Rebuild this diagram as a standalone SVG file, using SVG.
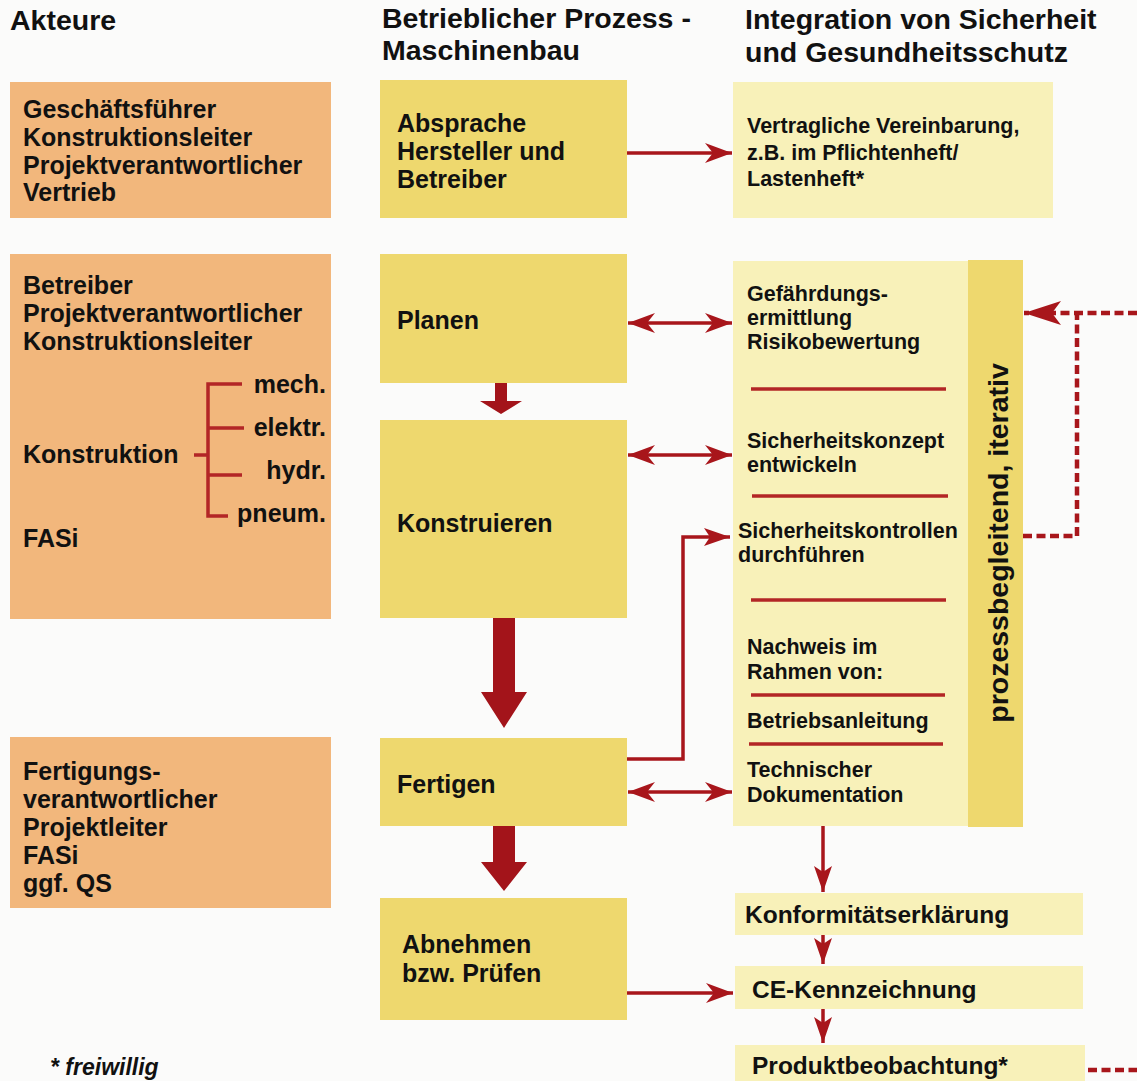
<svg xmlns="http://www.w3.org/2000/svg" width="1137" height="1081" viewBox="0 0 1137 1081">
<style>
text{font-family:"Liberation Sans",Arial,sans-serif;font-weight:bold;fill:#111111}
.h{font-size:28.5px}
.l{font-size:25px}
.m{font-size:25px}
.r{font-size:21.5px}
.b{font-size:24.5px}
.act{fill:#F2B77C}
.proc{fill:#EED86E}
.int{fill:#F8F1B9}
.sep{stroke:#B32626;stroke-width:3.5;fill:none}
.con{stroke:#A8161B;stroke-width:3.5;fill:none}
.dash{stroke:#A8161B;stroke-width:4.5;fill:none;stroke-dasharray:9 4.5}
.blk{fill:#A3141A}
</style>
<defs>
<marker id="ah" viewBox="-28 -11 29 22" refX="0" refY="0" markerWidth="29" markerHeight="22" markerUnits="userSpaceOnUse" orient="auto-start-reverse">
<path d="M0,0 L-27,-10 L-19,0 L-27,10 Z" fill="#A8161B"/>
</marker>
<marker id="ahs" viewBox="-27 -10 28 20" refX="0" refY="0" markerWidth="28" markerHeight="20" markerUnits="userSpaceOnUse" orient="auto">
<path d="M0,0 L-26,-9 L-20,0 L-26,9 Z" fill="#A8161B"/>
</marker>
<marker id="ahd" viewBox="-40 -13 41 26" refX="0" refY="0" markerWidth="41" markerHeight="26" markerUnits="userSpaceOnUse" orient="auto">
<path d="M0,0 L-37,-12 L-28,0 L-37,12 Z" fill="#A8161B"/>
</marker>
</defs>
<rect width="1137" height="1081" fill="#FBFBFA"/>

<g id="headers">
<text class="h" x="10" y="30">Akteure</text>
<text class="h" x="382" y="28">Betrieblicher Prozess -</text>
<text class="h" x="382" y="60">Maschinenbau</text>
<text class="h" x="745" y="29">Integration von Sicherheit</text>
<text class="h" x="745" y="62">und Gesundheitsschutz</text>
</g>

<g id="akteure1">
<rect class="act" x="10" y="82" width="321" height="136"/>
<text class="l" x="23" y="118">Geschäftsführer</text>
<text class="l" x="23" y="146">Konstruktionsleiter</text>
<text class="l" x="23" y="174">Projektverantwortlicher</text>
<text class="l" x="23" y="201">Vertrieb</text>
</g>

<g id="akteure2">
<rect class="act" x="10" y="254" width="321" height="365"/>
<text class="l" x="23" y="294">Betreiber</text>
<text class="l" x="23" y="322">Projektverantwortlicher</text>
<text class="l" x="23" y="350">Konstruktionsleiter</text>
<text class="l" x="23" y="463">Konstruktion</text>
<text class="l" x="23" y="547">FASi</text>
<text class="l" x="326" y="393" text-anchor="end">mech.</text>
<text class="l" x="326" y="436" text-anchor="end">elektr.</text>
<text class="l" x="326" y="479" text-anchor="end">hydr.</text>
<text class="l" x="326" y="522" text-anchor="end">pneum.</text>
<path class="sep" d="M194,455 H208 M242,384 H208 V516 H228 M208,428 H244 M208,475 H242"/>
</g>

<g id="akteure3">
<rect class="act" x="10" y="737" width="321" height="171"/>
<text class="l" x="23" y="780">Fertigungs-</text>
<text class="l" x="23" y="808">verantwortlicher</text>
<text class="l" x="23" y="836">Projektleiter</text>
<text class="l" x="23" y="864">FASi</text>
<text class="l" x="23" y="892">ggf. QS</text>
</g>

<g id="absprache">
<rect class="proc" x="380" y="80" width="247" height="138"/>
<text class="m" x="397" y="132">Absprache</text>
<text class="m" x="397" y="160">Hersteller und</text>
<text class="m" x="397" y="188">Betreiber</text>
</g>
<g id="planen">
<rect class="proc" x="380" y="254" width="247" height="129"/>
<text class="m" x="397" y="329">Planen</text>
</g>
<g id="konstruieren">
<rect class="proc" x="380" y="420" width="247" height="198"/>
<text class="m" x="397" y="532">Konstruieren</text>
</g>
<g id="fertigen">
<rect class="proc" x="380" y="738" width="247" height="88"/>
<text class="m" x="397" y="793">Fertigen</text>
</g>
<g id="abnehmen">
<rect class="proc" x="380" y="898" width="247" height="122"/>
<text class="m" x="402" y="953">Abnehmen</text>
<text class="m" x="402" y="982">bzw. Prüfen</text>
</g>

<g id="vereinbarung">
<rect class="int" x="733" y="82" width="320" height="136"/>
<text class="r" x="747" y="133">Vertragliche Vereinbarung,</text>
<text class="r" x="747" y="160">z.B. im Pflichtenheft/</text>
<text class="r" x="747" y="186">Lastenheft*</text>
</g>

<g id="integration">
<rect class="int" x="733" y="261" width="235" height="565"/>
<rect class="proc" x="968" y="260" width="55" height="567"/>
<text x="0" y="0" transform="translate(1008,543) rotate(-90)" text-anchor="middle" style="font-size:28.5px">prozessbegleitend, iterativ</text>
<text class="r" x="747" y="301">Gefährdungs-</text>
<text class="r" x="747" y="325">ermittlung</text>
<text class="r" x="747" y="349">Risikobewertung</text>
<line class="sep" x1="751" y1="389" x2="946" y2="389"/>
<text class="r" x="747" y="448">Sicherheitskonzept</text>
<text class="r" x="747" y="472">entwickeln</text>
<line class="sep" x1="752" y1="496" x2="948" y2="496"/>
<text class="r" x="738" y="538">Sicherheitskontrollen</text>
<text class="r" x="738" y="562">durchführen</text>
<line class="sep" x1="751" y1="600" x2="946" y2="600"/>
<text class="r" x="747" y="654">Nachweis im</text>
<text class="r" x="747" y="679">Rahmen von:</text>
<line class="sep" x1="751" y1="695" x2="945" y2="695"/>
<text class="r" x="747" y="728">Betriebsanleitung</text>
<line class="sep" x1="749" y1="744" x2="943" y2="744"/>
<text class="r" x="747" y="777">Technischer</text>
<text class="r" x="747" y="802">Dokumentation</text>
</g>

<g id="konformitaet">
<rect class="int" x="735" y="893" width="348" height="42"/>
<text class="b" x="745" y="923">Konformitätserklärung</text>
</g>
<g id="ce">
<rect class="int" x="735" y="966" width="348" height="43"/>
<text class="b" x="752" y="998">CE-Kennzeichnung</text>
</g>
<g id="produkt">
<rect class="int" x="735" y="1045" width="350" height="40"/>
<text class="b" x="752" y="1074">Produktbeobachtung*</text>
</g>

<g id="footnote">
<text x="50" y="1075" style="font-size:23px;font-style:italic">* freiwillig</text>
</g>

<g id="connectors">
<polygon class="blk" points="495,383 507,383 507,401 522,401 501,414 480,401 495,401"/>
<polygon class="blk" points="493,618 515,618 515,692 527,692 504,728 481,692 493,692"/>
<polygon class="blk" points="493,826 515,826 515,862 527,862 504,891 481,862 493,862"/>
<line class="con" x1="627" y1="153" x2="732" y2="153" marker-end="url(#ah)"/>
<line class="con" x1="628" y1="323" x2="732" y2="323" marker-start="url(#ah)" marker-end="url(#ah)"/>
<line class="con" x1="628" y1="455" x2="732" y2="455" marker-start="url(#ah)" marker-end="url(#ah)"/>
<line class="con" x1="628" y1="792" x2="732" y2="792" marker-start="url(#ah)" marker-end="url(#ah)"/>
<path class="con" d="M627,759 H683 V537 H730" marker-end="url(#ahs)"/>
<line class="con" x1="627" y1="993" x2="733" y2="993" marker-end="url(#ah)"/>
<line class="con" x1="823" y1="826" x2="823" y2="892" marker-end="url(#ahs)"/>
<line class="con" x1="823" y1="935" x2="823" y2="964" marker-end="url(#ahs)"/>
<line class="con" x1="823" y1="1009" x2="823" y2="1043" marker-end="url(#ahs)"/>
<path class="dash" d="M1023,536 H1077 V313"/>
<path class="dash" d="M1137,313 H1024" marker-end="url(#ahd)"/>
<path class="dash" d="M1088,1070 H1137"/>
</g>
</svg>
